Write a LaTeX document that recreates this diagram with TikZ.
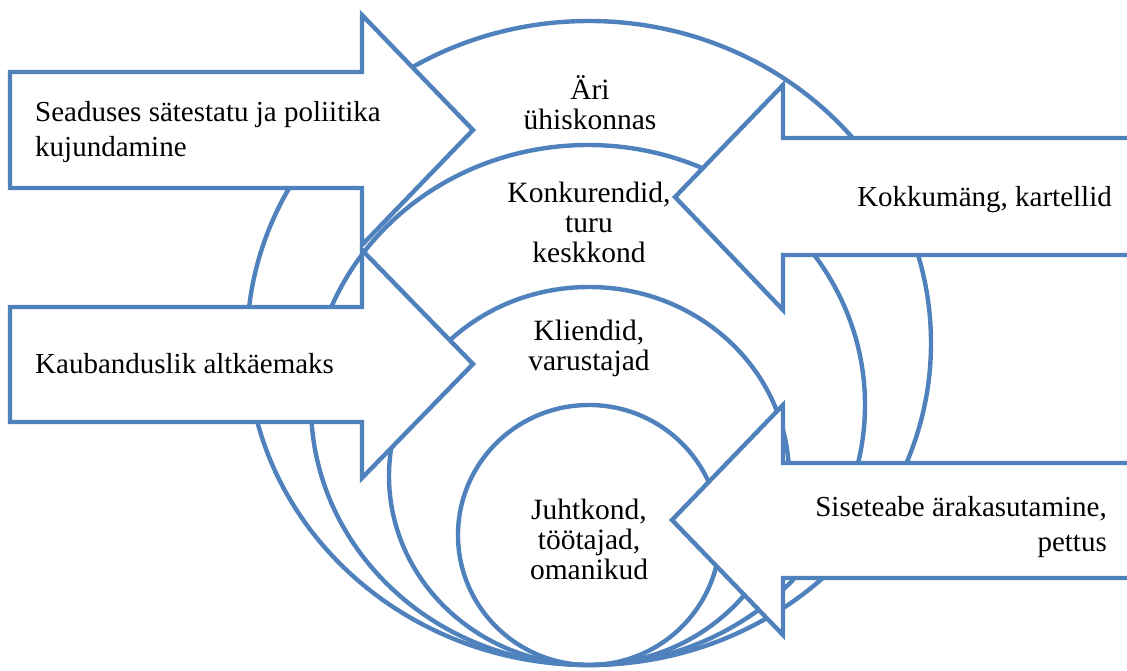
\documentclass[tikz,border=0pt]{standalone}
\usepackage{fontspec}
\setmainfont{Liberation Serif}
\definecolor{accent}{RGB}{79,129,189}
\begin{document}
\begin{tikzpicture}[x=1pt,y=-1pt,
  ring/.style={draw=accent, line width=4.4pt},
  flow/.style={draw=accent, fill=white, line width=4.4pt, line join=miter},
  side/.style={font=\fontsize{29}{35}\selectfont, inner sep=0pt, text=black},
  inner/.style={font=\fontsize{29.5}{30}\selectfont, inner sep=0pt, align=center, text=black}]
\useasboundingbox (0,0) rectangle (1127,670);
\clip (0,0) rectangle (1127,670);

% nested rings, all touching at the bottom
\draw[ring] (589,343) ellipse [x radius=342pt, y radius=322pt];
\draw[ring] (588,405) ellipse [x radius=277pt, y radius=260pt];
\draw[ring] (589,476) ellipse [x radius=200pt, y radius=189pt];
\draw[ring] (589,535) ellipse [x radius=131pt, y radius=130pt];

% block arrows pressing in from both sides
\draw[flow] (10,72) -- (362,72) -- (362,15) -- (473,130) -- (362,245) -- (362,188) -- (10,188) -- cycle;
\draw[flow] (10,307) -- (362,307) -- (362,250) -- (473,364) -- (362,478) -- (362,422) -- (10,422) -- cycle;
\draw[flow] (1140,138) -- (783,138) -- (783,85) -- (675,197) -- (783,310) -- (783,255) -- (1140,255) -- cycle;
\draw[flow] (1140,463) -- (783,463) -- (783,405) -- (672,520) -- (783,635) -- (783,578) -- (1140,578) -- cycle;

% arrow captions
\node[side, anchor=west, align=left] (law) at (35,132) {Seaduses sätestatu ja poliitika\\kujundamine};
\node[side, anchor=west] (bribe) at (35,364) {Kaubanduslik altkäemaks};
\node[side, anchor=east] (cartel) at (1112,200) {Kokkumäng, kartellid};
\node[side, anchor=east, align=right] (insider) at (1107,527) {Siseteabe ärakasutamine,\\pettus};

% ring captions
\node[inner] (society) at (590,103) {Äri\\ühiskonnas};
\node[inner] (market) at (589,222) {Konkurendid,\\turu\\keskkond};
\node[inner] (clients) at (589,348) {Kliendid,\\varustajad};
\node[inner] (staff) at (589,539) {Juhtkond,\\töötajad,\\omanikud};
\end{tikzpicture}
\end{document}
